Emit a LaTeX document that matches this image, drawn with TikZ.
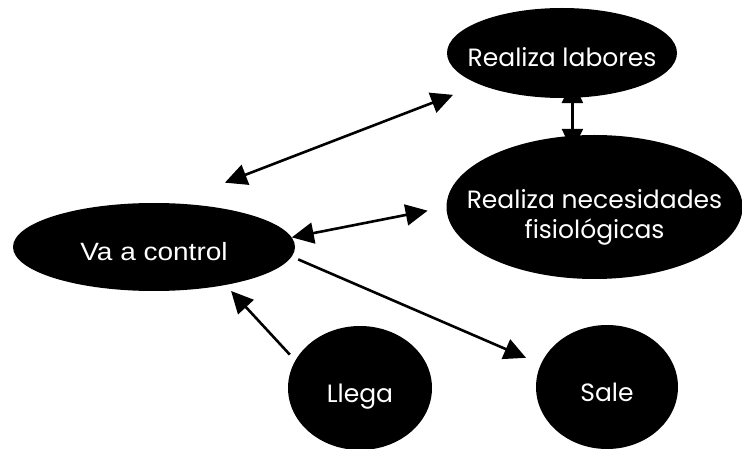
\documentclass[tikz,border=0pt]{standalone}
\usepackage{fontspec}
\usetikzlibrary{shapes.geometric,arrows.meta,backgrounds}
\newfontfamily\gothicfont{Poppins}
\newfontfamily\arialfont[FakeStretch=1.12]{Liberation Sans}
% label that neither widens its ellipse nor sits exactly at its centre:
% #1 lowers the text by that amount
\newcommand\fixedlabel[2][8pt]{\makebox[0pt][c]{\raisebox{-#1}[\height][\depth]{%
  \begin{tabular}{@{}c@{}}#2\end{tabular}}}}
\begin{document}
\begin{tikzpicture}[x=1pt,y=-1pt,
  state/.style={ellipse,fill=black,text=white,inner sep=0pt,align=center,
    font=\gothicfont\fontsize{25}{30}\selectfont},
  link/.style={line width=2.6pt,-{Triangle[length=22pt,width=21pt]}},
  dlink/.style={line width=2.6pt,{Triangle[length=22pt,width=21pt]}-{Triangle[length=22pt,width=21pt]}}]
\useasboundingbox (0,0) rectangle (742,449);
\clip (0,0) rectangle (742,449);

% states
\node[state,minimum width=230pt,minimum height=90pt] (lab) at (562,53)
  {\fixedlabel{Realiza labores}};
\node[state,minimum width=296pt,minimum height=144pt] (nec) at (594.5,207)
  {\fixedlabel[11pt]{Realiza necesidades\\fisiológicas}};
\node[state,minimum width=282pt,minimum height=88pt,
  font=\arialfont\fontsize{25}{30}\selectfont] (va) at (154,247)
  {\fixedlabel{Va a control}};
\node[state,minimum width=144pt,minimum height=124pt] (llega) at (360,388)
  {\fixedlabel{Llega}};
\node[state,minimum width=142pt,minimum height=124pt] (sale) at (607,387)
  {\fixedlabel{Sale}};

% transitions, drawn behind the states
\begin{scope}[on background layer]
  \draw[dlink,shorten <=57pt,shorten >=28.5pt] (va.68.9) -- (lab.201.3);
  \draw[dlink,shorten >=19pt] (va.4.1) -- (nec.west);
  \draw[link,shorten <=7pt,shorten >=16pt] (va.-4.2) -- (sale.161.1);
  \draw[link,shorten <=8pt,shorten >=8pt] (llega.157.2) -- (va.-28);
  \draw[dlink,shorten <=-17pt,shorten >=-16pt] (lab.-77.4) -- (lab.-77.4 |- nec.north);
\end{scope}
\end{tikzpicture}
\end{document}
